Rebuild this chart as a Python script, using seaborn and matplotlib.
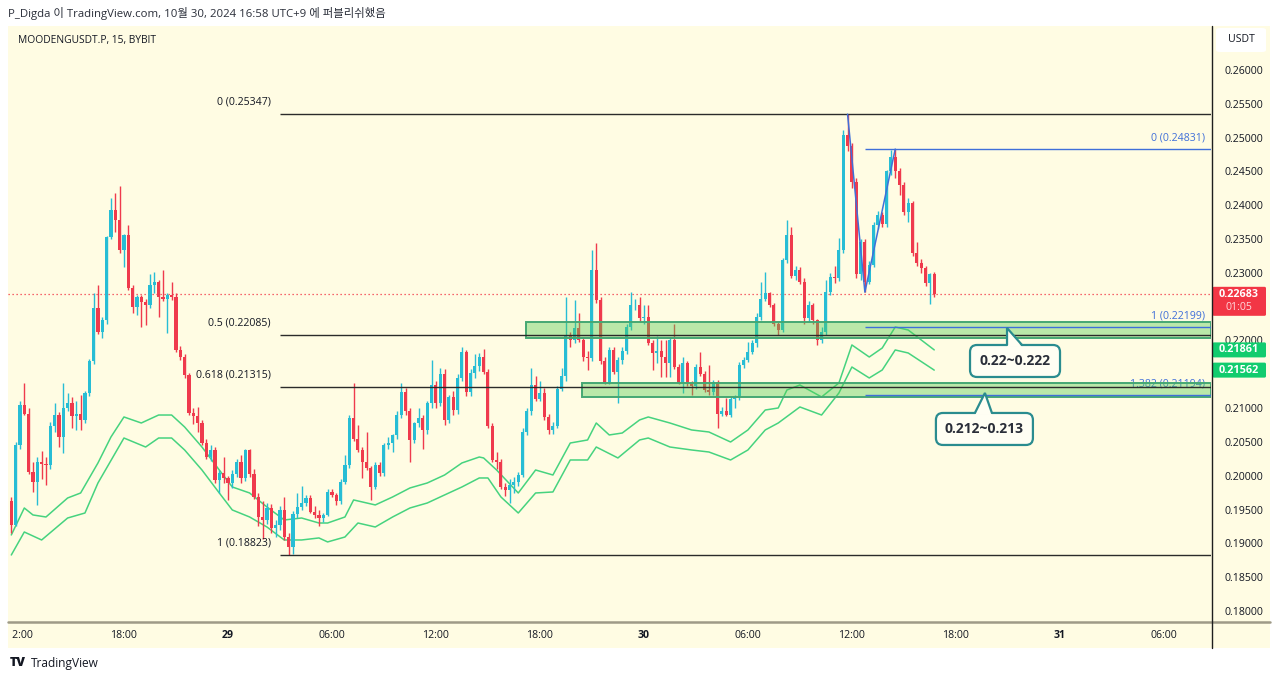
import numpy as np
import pandas as pd
import matplotlib
matplotlib.use("Agg")
import matplotlib.pyplot as plt
import seaborn as sns
from matplotlib.patches import Rectangle, FancyBboxPatch, Polygon
from matplotlib.lines import Line2D
from matplotlib.transforms import IdentityTransform

# ---------------- data (15-minute candles, first at Oct 28 11:30) ----------------
first_open = 0.1962
highs = [0.1969, 0.2050, 0.2110, 0.2137, 0.2100, 0.2021, 0.2028, 0.2036, 0.2028, 0.2080,
         0.2107, 0.2094, 0.2137, 0.2122, 0.2117, 0.2110, 0.2119, 0.2125, 0.2172, 0.2270,
         0.2282, 0.2235, 0.2355, 0.2410, 0.2418, 0.2428, 0.2358, 0.2371, 0.2282, 0.2268,
         0.2268, 0.2262, 0.2299, 0.2302, 0.2290, 0.2304, 0.2270, 0.2287, 0.2270, 0.2192,
         0.2180, 0.2152, 0.2100, 0.2102, 0.2082, 0.2055, 0.2045, 0.2042, 0.2008, 0.2028,
         0.2000, 0.2008, 0.2025, 0.2030, 0.2040, 0.2040, 0.2010, 0.1975, 0.1962, 0.1960,
         0.1958, 0.1935, 0.1955, 0.1969, 0.1915, 0.1948, 0.1975, 0.1985, 0.1972, 0.1972,
         0.1955, 0.1950, 0.1945, 0.1980, 0.1980, 0.1975, 0.1995, 0.2031, 0.2090, 0.2137,
         0.2075, 0.2042, 0.2065, 0.2015, 0.2020, 0.2020, 0.2048, 0.2058, 0.2062, 0.2095,
         0.2137, 0.2130, 0.2100, 0.2080, 0.2100, 0.2090, 0.2110, 0.2171, 0.2140, 0.2160,
         0.2158, 0.2120, 0.2125, 0.2150, 0.2190, 0.2186, 0.2158, 0.2180, 0.2182, 0.2188,
         0.2158, 0.2078, 0.2035, 0.2025, 0.1990, 0.1995, 0.1998, 0.2005, 0.2070, 0.2100,
         0.2159, 0.2148, 0.2140, 0.2130, 0.2092, 0.2080, 0.2132, 0.2160, 0.2265, 0.2212,
         0.2260, 0.2240, 0.2205, 0.2185, 0.2334, 0.2344, 0.2265, 0.2175, 0.2190, 0.2190,
         0.2175, 0.2190, 0.2225, 0.2272, 0.2262, 0.2265, 0.2252, 0.2252, 0.2200, 0.2206,
         0.2200, 0.2200, 0.2205, 0.2225, 0.2165, 0.2175, 0.2170, 0.2140, 0.2165, 0.2183,
         0.2155, 0.2164, 0.2142, 0.2142, 0.2102, 0.2115, 0.2118, 0.2120, 0.2168, 0.2175,
         0.2198, 0.2200, 0.2240, 0.2287, 0.2302, 0.2272, 0.2255, 0.2228, 0.2322, 0.2378,
         0.2368, 0.2310, 0.2308, 0.2292, 0.2258, 0.2256, 0.2232, 0.2220, 0.2290, 0.2300,
         0.2310, 0.2351, 0.2511, 0.25347, 0.2492, 0.2440, 0.2350, 0.2350, 0.2318, 0.2375,
         0.2392, 0.2390, 0.2452, 0.2482, 0.24831, 0.2455, 0.2435, 0.2410, 0.2406, 0.2345,
         0.2320, 0.2310, 0.2300, 0.2302]
lows = [0.1915, 0.1925, 0.2040, 0.2090, 0.2003, 0.1976, 0.1957, 0.1995, 0.1986, 0.2010,
        0.2065, 0.2043, 0.2033, 0.2095, 0.2070, 0.2068, 0.2068, 0.2078, 0.2118, 0.2165,
        0.2210, 0.2203, 0.2225, 0.2350, 0.2361, 0.2330, 0.2309, 0.2275, 0.2240, 0.2238,
        0.2220, 0.2223, 0.2248, 0.2270, 0.2235, 0.2258, 0.2211, 0.2260, 0.2183, 0.2171,
        0.2145, 0.2090, 0.2077, 0.2065, 0.2045, 0.2025, 0.2022, 0.1990, 0.1974, 0.1990,
        0.1964, 0.1982, 0.1998, 0.1990, 0.1992, 0.1998, 0.1966, 0.1925, 0.1907, 0.1928,
        0.1915, 0.1910, 0.1920, 0.1905, 0.18823, 0.1885, 0.1938, 0.1950, 0.1955, 0.1945,
        0.1938, 0.1925, 0.1932, 0.1940, 0.1968, 0.1957, 0.1958, 0.1988, 0.2012, 0.2052,
        0.2035, 0.1996, 0.2008, 0.1964, 0.1980, 0.2000, 0.2000, 0.2040, 0.2035, 0.2055,
        0.2085, 0.2090, 0.2020, 0.2048, 0.2072, 0.2040, 0.2062, 0.2100, 0.2100, 0.2103,
        0.2075, 0.2078, 0.2090, 0.2092, 0.2140, 0.2118, 0.2118, 0.2145, 0.2155, 0.2150,
        0.2070, 0.2020, 0.2010, 0.1980, 0.1970, 0.1959, 0.1975, 0.1985, 0.1998, 0.2060,
        0.2090, 0.2110, 0.2110, 0.2082, 0.2062, 0.2062, 0.2070, 0.2125, 0.2140, 0.2190,
        0.2196, 0.2198, 0.2170, 0.2157, 0.2170, 0.2255, 0.2165, 0.2135, 0.2135, 0.2150,
        0.2107, 0.2165, 0.2180, 0.2215, 0.2245, 0.2228, 0.2225, 0.2193, 0.2156, 0.2166,
        0.2146, 0.2146, 0.2146, 0.2158, 0.2135, 0.2122, 0.2132, 0.2119, 0.2128, 0.2148,
        0.2124, 0.2120, 0.2120, 0.2070, 0.2088, 0.2088, 0.2087, 0.2100, 0.2112, 0.2160,
        0.2168, 0.2180, 0.2190, 0.2230, 0.2258, 0.2250, 0.2222, 0.2208, 0.2212, 0.2315,
        0.2292, 0.2290, 0.2284, 0.2225, 0.2228, 0.2225, 0.2193, 0.2196, 0.2208, 0.2268,
        0.2285, 0.2288, 0.2330, 0.2480, 0.2425, 0.2292, 0.2290, 0.22715, 0.2283, 0.2308,
        0.2365, 0.2368, 0.2368, 0.2445, 0.2440, 0.2415, 0.2385, 0.2375, 0.2325, 0.2310,
        0.2300, 0.2280, 0.2254, 0.2265]
closes = [0.1927, 0.2046, 0.2105, 0.2092, 0.2006, 0.1991, 0.2021, 0.2017, 0.2016, 0.2073,
          0.2090, 0.2058, 0.2100, 0.2107, 0.2088, 0.2092, 0.2083, 0.2122, 0.2169, 0.2248,
          0.2213, 0.2230, 0.2353, 0.2393, 0.2378, 0.2334, 0.2356, 0.2277, 0.2250, 0.2265,
          0.2257, 0.2252, 0.2282, 0.2287, 0.2265, 0.2262, 0.2267, 0.2264, 0.2186, 0.2176,
          0.2149, 0.2093, 0.2088, 0.2078, 0.2048, 0.2028, 0.2038, 0.1994, 0.2004, 0.1996,
          0.1989, 0.2003, 0.2021, 0.1997, 0.2038, 0.2003, 0.1969, 0.1939, 0.1934, 0.1952,
          0.1922, 0.1927, 0.1949, 0.1910, 0.1895, 0.1944, 0.1954, 0.1959, 0.1967, 0.1947,
          0.1942, 0.1937, 0.1942, 0.1976, 0.1971, 0.1962, 0.1991, 0.2016, 0.2085, 0.2055,
          0.2038, 0.2021, 0.2011, 0.1984, 0.2016, 0.2004, 0.2045, 0.2048, 0.2060, 0.2090,
          0.2124, 0.2095, 0.2053, 0.2078, 0.2085, 0.2068, 0.2107, 0.2134, 0.2107, 0.2151,
          0.2082, 0.2117, 0.2097, 0.2144, 0.2183, 0.2124, 0.2152, 0.2162, 0.2176, 0.2154,
          0.2073, 0.2023, 0.2021, 0.1984, 0.1979, 0.1986, 0.1991, 0.2001, 0.2065, 0.2095,
          0.2134, 0.2114, 0.2122, 0.2087, 0.2068, 0.2073, 0.2129, 0.2147, 0.2206, 0.2201,
          0.2218, 0.2201, 0.2176, 0.2174, 0.2304, 0.2260, 0.2169, 0.2139, 0.2186, 0.2154,
          0.2171, 0.2184, 0.2220, 0.2252, 0.2253, 0.2233, 0.2235, 0.2196, 0.2181, 0.2184,
          0.2176, 0.2166, 0.2200, 0.2161, 0.2137, 0.2166, 0.2137, 0.2132, 0.2161, 0.2151,
          0.2127, 0.2124, 0.2139, 0.2092, 0.2096, 0.2090, 0.2114, 0.2117, 0.2164, 0.2171,
          0.2183, 0.2196, 0.2235, 0.2262, 0.2270, 0.2252, 0.2225, 0.2215, 0.2319, 0.2356,
          0.2295, 0.2304, 0.2287, 0.2233, 0.2252, 0.2230, 0.2201, 0.2213, 0.2272, 0.2294,
          0.2292, 0.2334, 0.2504, 0.2487, 0.2435, 0.2299, 0.2346, 0.2287, 0.2312, 0.2371,
          0.2386, 0.2373, 0.2450, 0.2472, 0.2450, 0.2430, 0.2390, 0.2403, 0.2329, 0.2314,
          0.2307, 0.2285, 0.2299, 0.22683]

# envelope bands (candle index, price)
upper_band_idx = [0, 3, 5, 8, 13, 16, 20, 23, 26, 30, 34, 37, 40, 44, 48, 51, 55, 59, 63, 67,
                  71, 73, 77, 79, 84, 88, 92, 96, 100, 104, 108, 109, 112, 117, 121, 125, 129, 133, 135, 138,
                  141, 145, 147, 152, 157, 161, 166, 170, 174, 177, 179, 182, 187, 191, 194, 198, 201, 204, 207, 213]
upper_band = [0.19124, 0.19523, 0.19420, 0.19390, 0.19671, 0.19745, 0.20189, 0.20573, 0.20869, 0.20780,
              0.20898, 0.20898, 0.20721, 0.20425, 0.20085, 0.19834, 0.19745, 0.19538, 0.19346, 0.19375,
              0.19301, 0.19301, 0.19390, 0.19642, 0.19568, 0.19686, 0.19819, 0.19893, 0.20011, 0.20189,
              0.20277, 0.20263, 0.20085, 0.19745, 0.20085, 0.20011, 0.20484, 0.20529, 0.20780, 0.20603,
              0.20632, 0.20825, 0.20869, 0.20780, 0.20677, 0.20647, 0.20499, 0.20677, 0.20972, 0.21002,
              0.21268, 0.21342, 0.21165, 0.21372, 0.21934, 0.21756, 0.21889, 0.22200, 0.22155, 0.21861]
lower_band_idx = [0, 3, 7, 13, 17, 20, 26, 31, 34, 37, 40, 44, 48, 51, 55, 59, 63, 67, 71, 73,
                  77, 80, 84, 88, 92, 96, 100, 104, 108, 110, 113, 117, 121, 125, 129, 133, 135, 140, 145, 147,
                  152, 157, 161, 166, 170, 174, 177, 182, 187, 191, 194, 198, 201, 204, 207, 213]
lower_band = [0.18828, 0.19168, 0.19050, 0.19375, 0.19449, 0.19893, 0.20558, 0.20425, 0.20558, 0.20558,
              0.20381, 0.20085, 0.19745, 0.19494, 0.19390, 0.19242, 0.19050, 0.19050, 0.19080, 0.19021,
              0.19094, 0.19301, 0.19242, 0.19390, 0.19523, 0.19597, 0.19716, 0.19834, 0.19967, 0.19967,
              0.19686, 0.19449, 0.19745, 0.19760, 0.20233, 0.20233, 0.20425, 0.20263, 0.20529, 0.20558,
              0.20425, 0.20381, 0.20351, 0.20233, 0.20381, 0.20677, 0.20780, 0.21017, 0.20898, 0.21224,
              0.21608, 0.21446, 0.21564, 0.21860, 0.21815, 0.21562]

price_ticks = [0.18000, 0.18500, 0.19000, 0.19500, 0.20000, 0.20500, 0.21000, 0.21500, 0.22000,
               0.22500, 0.23000, 0.23500, 0.24000, 0.24500, 0.25000, 0.25500, 0.26000]
hidden_ticks = [0.21500, 0.22500]   # covered by the price labels in the reference
time_tick_idx = [2, 26, 50, 74, 98, 122, 146, 170, 194, 218, 242, 266]
time_tick_labels = ["12:00", "18:00", "29", "06:00", "12:00", "18:00", "30", "06:00", "12:00", "18:00", "31", "06:00"]
day_labels = ["29", "30", "31"]

fib_levels = ["0", "0.5", "0.618", "1"]
fib_prices = [0.25347, 0.22085, 0.21315, 0.18823]
fib_start = 62

ext_levels = ["0", "1", "1.382"]
ext_prices = [0.24831, 0.22199, 0.21194]
ext_start = 197
zigzag_idx = [193, 197, 204]
zigzag_price = [0.25347, 0.22715, 0.24831]

zone_low = [0.22042, 0.21169]
zone_high = [0.22270, 0.21376]
zone_start = [118.8, 131.7]
zone_labels = ["0.22~0.222", "0.212~0.213"]
callout_tip_idx = [229.8, 224.7]
callout_tip_price = [0.22185, 0.21224]

last_price = 0.22683
countdown = "01:05"
band_last = [0.21861, 0.21562]

header = "P_Digda 이 TradingView.com, 10월 30, 2024 16:58 UTC+9 에 퍼블리쉬했음"
symbol = "MOODENGUSDT.P, 15, BYBIT"

# ---------------- style ----------------
sns.set_theme(style="white")
plt.rcParams['font.family'] = ['Open Sans', 'Noto Sans CJK KR', 'DejaVu Sans']

W, H = 1280, 681
CREAM = '#FFFCE3'
UP = '#27BDD5'
DOWN = '#EF3A4D'
BAND = '#46D37F'
BLUE = '#3F6FD9'
TEAL = '#2A8C8F'
TXT = '#131722'

def fx(px):
    return px / W

def fy(py):
    return 1 - py / H

fig = plt.figure(figsize=(12.8, 6.81), dpi=100, facecolor='white')
fig.add_artist(Rectangle((fx(8), fy(648)), (1270 - 8) / W, (648 - 26) / H,
                         transform=fig.transFigure, fc=CREAM, ec='none', zorder=-5))

ax = fig.add_axes([fx(8), fy(622), (1211 - 8) / W, (622 - 26) / H])
ax.set_facecolor('none')
for s in ax.spines.values():
    s.set_visible(False)
xmin = (8 - 11.3) / 4.333
xmax = (1211 - 11.3) / 4.333
ax.set_xlim(xmin, xmax)
ymin, ymax = 0.17837, 0.26651
ax.set_ylim(ymin, ymax)

# candles
opens = [first_open] + closes[:-1]
df = pd.DataFrame({'idx': np.arange(len(closes)), 'open': opens, 'high': highs,
                   'low': lows, 'close': closes})
up = df['close'] >= df['open']
cols = np.where(up, UP, DOWN)
ax.vlines(df['idx'], df['low'], df['high'], colors=cols, lw=1.0, zorder=3)
body = (df['close'] - df['open']).abs().clip(lower=0.00005)
ax.bar(df['idx'], body, bottom=df[['open', 'close']].min(axis=1), width=0.72,
       color=cols, linewidth=0, zorder=4)

# bands
sns.lineplot(x=upper_band_idx, y=upper_band, ax=ax, color=BAND, lw=1.1, zorder=2)
sns.lineplot(x=lower_band_idx, y=lower_band, ax=ax, color=BAND, lw=1.1, zorder=2)

# current price dotted line
ax.axhline(last_price, color='#F23645', lw=0.9, ls=(0, (1, 2.2)), zorder=1)

# zones
for zs, zl, zh in zip(zone_start, zone_low, zone_high):
    ax.add_patch(Rectangle((zs, zl), xmax - zs, zh - zl, fc=(0.33, 0.80, 0.33, 0.40),
                           ec='#45A873', lw=1.4, zorder=6))

# fib retracement
for lvl, p in zip(fib_levels, fib_prices):
    ax.hlines(p, fib_start, xmax, color='#2B2B2B', lw=1.0, zorder=7)
    ax.annotate(f"{lvl} ({p:.5f})", xy=(fib_start, p), xytext=(-6.5, 8.6),
                textcoords='offset points', ha='right', va='center', fontsize=7.6, color=TXT)

# fib extension
sns.lineplot(x=zigzag_idx, y=zigzag_price, ax=ax, color=BLUE, lw=1.1, zorder=8)
for lvl, p in zip(ext_levels, ext_prices):
    ax.hlines(p, ext_start, xmax, color=BLUE, lw=1.0, zorder=7)
    ax.annotate(f"{lvl} ({p:.5f})", xy=(1, p), xycoords=('axes fraction', 'data'),
                xytext=(-4.5, 8.2), textcoords='offset points', ha='right', va='center',
                fontsize=7.6, color=BLUE, zorder=5)

# axes ticks
ax.set_xticks([])
ax.set_yticks(price_ticks)
ax.set_yticklabels(["" if p in hidden_ticks else f"{p:.5f}" for p in price_ticks])
ax.tick_params(axis='y', left=False, right=False, labelleft=False, labelright=True,
               length=0, pad=10, labelsize=7.6, labelcolor=TXT)
ax.set_xlabel('')
ax.set_ylabel('')

# time axis panel (left edge clips the first label like the reference)
t_left = 10.5
ax_t = fig.add_axes([fx(t_left), fy(648), (1211 - t_left) / W, 26 / H])
ax_t.set_facecolor('none')
ax_t.set_xlim((t_left - 11.3) / 4.333, xmax)
ax_t.set_ylim(0, 1)
ax_t.axis('off')
for i, lab in zip(time_tick_idx, time_tick_labels):
    ax_t.text(i, 0.5, lab, ha='center', va='center', fontsize=7.6, color=TXT,
              fontweight='bold' if lab in day_labels else 'normal', clip_on=True)

# price axis panel overlays
ax_p = fig.add_axes([fx(1211), fy(622), 59 / W, (622 - 26) / H])
ax_p.set_facecolor('none')
ax_p.set_xlim(0, 59)
ax_p.set_ylim(ymin, ymax)
ax_p.axis('off')
pxu = (ymax - ymin) / (622 - 26)
ax_p.add_patch(FancyBboxPatch((1.5, last_price - 21.5 * pxu), 53.5, 29 * pxu,
                              boxstyle='round,pad=0,rounding_size=1.5', mutation_aspect=pxu,
                              fc='#F23645', ec='none', clip_on=False))
ax_p.text(28, last_price, f"{last_price:.5f}", ha='center', va='center', color='white',
          fontsize=7.8, fontweight='bold')
ax_p.text(28, last_price - 13.5 * pxu, countdown, ha='center', va='center', color='#FFD6DA',
          fontsize=7.6)
for p in band_last:
    ax_p.add_patch(FancyBboxPatch((1.5, p - 7.5 * pxu), 53.5, 15 * pxu,
                                  boxstyle='round,pad=0,rounding_size=1.5', mutation_aspect=pxu,
                                  fc='#11CC6E', ec='none', clip_on=False))
    ax_p.text(28, p, f"{p:.5f}", ha='center', va='center', color='white', fontsize=7.8,
              fontweight='bold')

# separators
fig.add_artist(Line2D([fx(8), fx(1270)], [fy(622), fy(622)], transform=fig.transFigure,
                      color='#9E9A87', lw=1.8, zorder=10))
fig.add_artist(Line2D([fx(1211.5), fx(1211.5)], [fy(26), fy(648)], transform=fig.transFigure,
                      color='#1E1E1E', lw=1.0, zorder=10))

# USDT box
fig.add_artist(FancyBboxPatch((fx(1216), fy(52)), 50 / W, 24 / H, transform=fig.transFigure,
                              boxstyle='round,pad=0,rounding_size=0.003', fc='white', ec='none', zorder=9))
fig.text(fx(1241), fy(40), "USDT", ha='center', va='center', fontsize=7.6, color=TXT, zorder=11)

# header / symbol / logo
fig.text(fx(8), fy(13), header, ha='left', va='center', fontsize=8.2, color='#2A2E39')
fig.text(fx(18), fy(40), symbol, ha='left', va='center', fontsize=7.4, color=TXT)
fig.text(fx(10), fy(663), "TV", ha='left', va='center', fontsize=9, color='#131722',
         fontweight='heavy')
fig.text(fx(31), fy(663), "TradingView", ha='left', va='center', fontsize=8.6, color='#131722')

# callouts
fig.canvas.draw()
callout_geom = [(-37, 53, 17, 49, 0, 15), (-49, 48, 20, 52, -10, 7)]
for (tx_i, tp), lab, g in zip(zip(callout_tip_idx, callout_tip_price), zone_labels, callout_geom):
    tx, ty = ax.transData.transform((tx_i, tp))
    x0, x1, d0, d1, b0, b1 = g
    top = ty - d0
    bot = ty - d1
    fig.add_artist(FancyBboxPatch((tx + x0, bot), x1 - x0, top - bot, transform=IdentityTransform(),
                                  boxstyle='round,pad=0,rounding_size=7', fc='#FFFEF3', ec=TEAL,
                                  lw=1.6, zorder=20))
    fig.add_artist(Polygon([(tx + b0, top - 2), (tx, ty), (tx + b1, top - 2)], closed=True,
                           transform=IdentityTransform(), fc='#FFFEF3', ec='none', zorder=21))
    fig.add_artist(Line2D([tx + b0, tx, tx + b1], [top, ty, top], transform=IdentityTransform(),
                          color=TEAL, lw=1.6, zorder=22, solid_joinstyle='miter'))
    fig.text((tx + (x0 + x1) / 2) / W, (top + bot) / 2 / H, lab, ha='center', va='center',
             fontsize=10, fontweight='bold', color='#2A2E39', zorder=23)

fig.savefig('out.png', dpi=100, facecolor='white')
